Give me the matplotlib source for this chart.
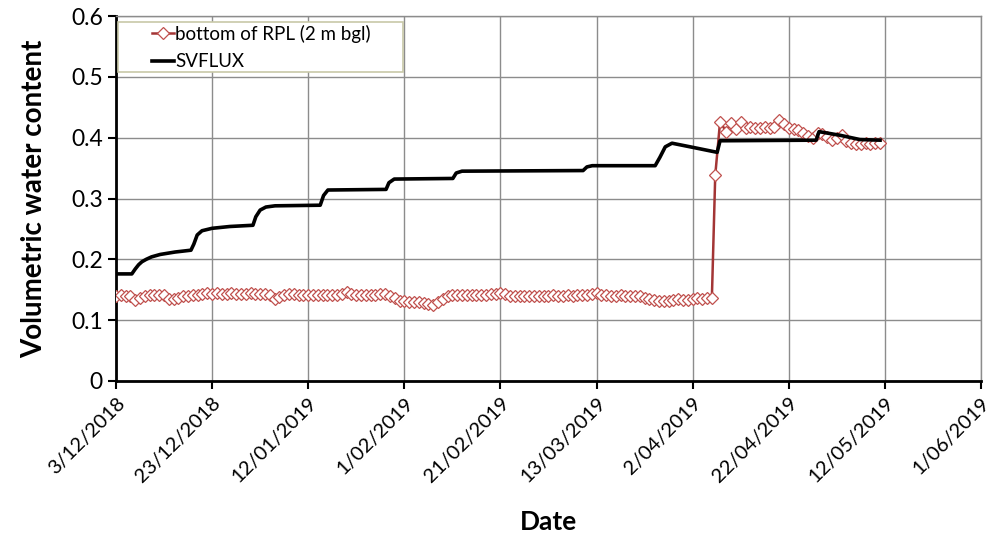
import pandas as pd
import matplotlib
matplotlib.use("Agg")
import matplotlib.pyplot as plt
import matplotlib.dates as mdates
from matplotlib.patches import Rectangle
from matplotlib.ticker import FuncFormatter, MultipleLocator

# ---------------- DATA ---------------- #

START = pd.Timestamp("2018-12-03")

# measured: bottom of RPL (2 m bgl), days after 3/12/2018
rpl_days = list(range(0, 125)) + [124.7, 125.7] + list(range(127, 160))
rpl_values = [
    0.140, 0.141, 0.139, 0.140, 0.133, 0.137, 0.140, 0.141, 0.142, 0.142,
    0.141, 0.134, 0.135, 0.137, 0.139, 0.140, 0.141, 0.142, 0.143, 0.144,
    0.143, 0.144, 0.143, 0.143, 0.144, 0.143, 0.143, 0.143, 0.144, 0.143,
    0.143, 0.143, 0.141, 0.134, 0.138, 0.141, 0.143, 0.143, 0.142, 0.141,
    0.142, 0.141, 0.142, 0.142, 0.141, 0.142, 0.142, 0.143, 0.146, 0.143,
    0.142, 0.142, 0.141, 0.142, 0.142, 0.143, 0.143, 0.140, 0.136, 0.132,
    0.131, 0.130, 0.130, 0.129, 0.128, 0.127, 0.125, 0.130, 0.135, 0.139,
    0.141, 0.141, 0.142, 0.141, 0.141, 0.142, 0.141, 0.142, 0.143, 0.143,
    0.145, 0.143, 0.140, 0.139, 0.140, 0.140, 0.139, 0.140, 0.139, 0.140,
    0.140, 0.141, 0.140, 0.140, 0.141, 0.140, 0.141, 0.141, 0.142, 0.143,
    0.145, 0.142, 0.141, 0.140, 0.140, 0.141, 0.140, 0.140, 0.139, 0.139,
    0.137, 0.135, 0.133, 0.132, 0.131, 0.132, 0.133, 0.134, 0.133, 0.133,
    0.134, 0.136, 0.135, 0.137, 0.136,
    0.338, 0.426,
    0.410, 0.425, 0.414, 0.426, 0.416, 0.417, 0.416, 0.416, 0.417, 0.416,
    0.418, 0.429, 0.423, 0.416, 0.414, 0.412, 0.408, 0.403, 0.400, 0.408,
    0.406, 0.402, 0.396, 0.400, 0.405, 0.394, 0.391, 0.390, 0.390, 0.391,
    0.390, 0.391, 0.391,
]

# SVFLUX model, days after 3/12/2018
svflux_days = [
    0, 3.3, 4.0, 4.7, 5.4, 6.3, 7.4, 9.2, 12.3, 15.6, 16.2, 16.9, 17.9, 20,
    23.7, 28.5, 29.1, 30, 31.2, 33.1, 42.5, 43.2, 44.1, 56.2, 56.8, 57.9,
    70.1, 70.8, 72, 97.2, 98, 99.1, 112.2, 113.2, 114.3, 115.7, 119.5,
    125.1, 125.7, 145.7, 146.3, 150.7, 154.8, 159,
]
svflux_values = [
    0.176, 0.176, 0.184, 0.191, 0.196, 0.200, 0.204, 0.208, 0.212, 0.215,
    0.225, 0.240, 0.247, 0.251, 0.254, 0.256, 0.270, 0.281, 0.286, 0.288,
    0.289, 0.305, 0.314, 0.315, 0.326, 0.332, 0.333, 0.342, 0.345, 0.346,
    0.352, 0.354, 0.354, 0.368, 0.385, 0.391, 0.385, 0.376, 0.395, 0.396,
    0.410, 0.404, 0.397, 0.396,
]


def to_dates(days):
    return START + pd.to_timedelta(days, unit="D")


def fmt_date(x, pos):
    d = mdates.num2date(x)
    return f"{d.day}/{d.month:02d}/{d.year}"


# ---------------- PLOT ---------------- #

plt.rcParams["font.family"] = ["Lato", "DejaVu Sans"]

fig = plt.figure(figsize=(10.05, 5.38), dpi=100)
ax = fig.add_axes([0.1154, 0.292, 0.8607, 0.678])

ax.plot(to_dates(rpl_days), rpl_values, color="#A33535", linewidth=1.8,
        marker="D", markersize=6, markerfacecolor="white",
        markeredgecolor="#C0504D", markeredgewidth=0.9,
        label="bottom of RPL (2 m bgl)", zorder=3)
ax.plot(to_dates(svflux_days), svflux_values, color="black", linewidth=2.6,
        label="SVFLUX", zorder=4)

ticks = [START + pd.Timedelta(days=20 * i) for i in range(10)]
ax.set_xticks(mdates.date2num(ticks))
ax.xaxis.set_major_formatter(FuncFormatter(fmt_date))
ax.set_xlim(mdates.date2num(ticks[0]), mdates.date2num(ticks[-1]))
ax.set_ylim(0, 0.6)
ax.yaxis.set_major_locator(MultipleLocator(0.1))
ax.yaxis.set_major_formatter(FuncFormatter(lambda v, p: "0" if v == 0 else f"{v:.1f}"))

ax.grid(True, color="#8C8C8C", linewidth=1.0)
ax.set_axisbelow(True)
for side in ["top", "right"]:
    ax.spines[side].set_color("#8C8C8C")
    ax.spines[side].set_linewidth(1.0)
for side in ["left", "bottom"]:
    ax.spines[side].set_color("black")
    ax.spines[side].set_linewidth(2.0)

ax.tick_params(axis="both", direction="out", length=6, width=1.5,
               labelsize=14.5, colors="black")
ax.tick_params(axis="y", labelsize=16.5)
plt.setp(ax.get_xticklabels(), rotation=45, ha="right",
         rotation_mode="anchor")

ax.set_ylabel("Volumetric water content", fontsize=20, fontweight="bold",
              labelpad=17)
ax.set_xlabel("Date", fontsize=19, fontweight="bold", labelpad=18)

# legend box (Excel style: wide left padding)
ax.add_patch(Rectangle((0.0023, 0.8466), 0.3295, 0.137,
                       transform=ax.transAxes, facecolor="white",
                       edgecolor="#C8C8A8", linewidth=1.2, zorder=5))
leg = ax.legend(loc="upper left", bbox_to_anchor=(0.0416, 0.976),
                fontsize=13.5, frameon=False,
                borderaxespad=0, handlelength=1.15, handletextpad=0.1,
                borderpad=0, labelspacing=0.55)
leg.set_zorder(6)

fig.savefig("out.png", dpi=100)
